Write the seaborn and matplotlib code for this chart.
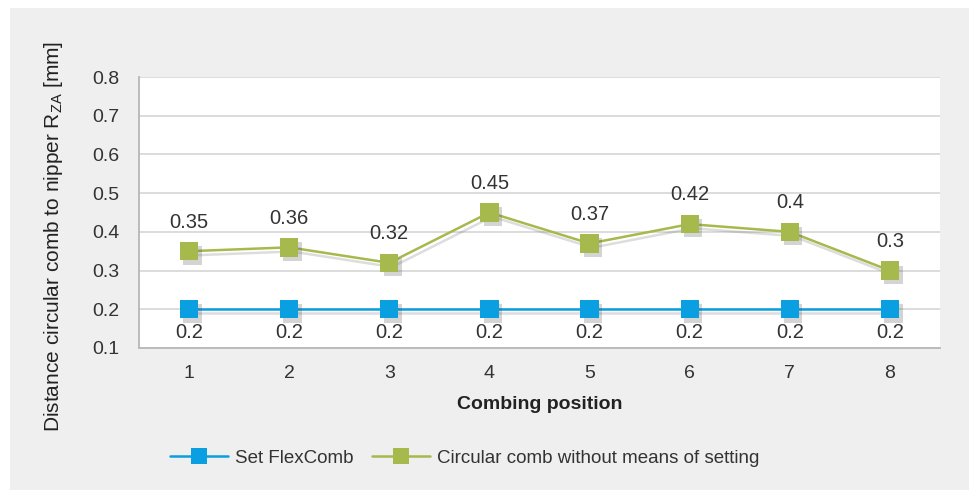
import numpy as np
import pandas as pd
import seaborn as sns
import matplotlib.pyplot as plt
import matplotlib.patheffects as pe
from matplotlib.patches import Rectangle

positions = [1, 2, 3, 4, 5, 6, 7, 8]
flexcomb = [0.2, 0.2, 0.2, 0.2, 0.2, 0.2, 0.2, 0.2]
circular = [0.35, 0.36, 0.32, 0.45, 0.37, 0.42, 0.4, 0.3]
series_names = ["Set FlexComb", "Circular comb without means of setting"]
yticks = [0.1, 0.2, 0.3, 0.4, 0.5, 0.6, 0.7, 0.8]

df = pd.DataFrame({
    "pos": positions * 2,
    "value": flexcomb + circular,
    "series": [series_names[0]] * 8 + [series_names[1]] * 8,
})

sns.set_style("white")
plt.rcParams["font.family"] = ["Liberation Sans", "DejaVu Sans"]
plt.rcParams["text.color"] = "#333333"

colors = {series_names[0]: "#0a9fe0", series_names[1]: "#a6b94c"}

fig = plt.figure(figsize=(9.7, 4.9), dpi=100, facecolor="white")
fig.patches.append(Rectangle((10 / 970, 0), 1, 1 - 8 / 490, transform=fig.transFigure,
                             facecolor="#efefef", edgecolor="none", zorder=-10))
ax = fig.add_axes([139 / 970, 1 - 348 / 490, 801 / 970, 271 / 490])
ax.set_facecolor("white")

line_shadow = [pe.SimpleLineShadow(offset=(2, -3), shadow_color="#555555", alpha=0.2), pe.Normal()]
marker_shadow = [pe.SimplePatchShadow(offset=(2.5, -3), shadow_rgbFace="#555555", alpha=0.25), pe.Normal()]

sns.lineplot(data=df, x="pos", y="value", hue="series", palette=colors,
             linewidth=1.8, ax=ax, legend=False)
for line in ax.get_lines():
    line.set_path_effects(line_shadow)
sns.scatterplot(data=df, x="pos", y="value", hue="series", palette=colors, marker="s",
                s=175, linewidth=0, ax=ax, legend=False, zorder=3)
for coll in ax.collections:
    coll.set_path_effects(marker_shadow)
    coll.set_clip_on(False)

for x, y in zip(positions, circular):
    ax.annotate(f"{y:g}", (x, y), xytext=(0, 21), textcoords="offset points",
                ha="center", va="center", fontsize=14.5, color="#333333")
for x, y in zip(positions, flexcomb):
    ax.annotate(f"{y:g}", (x, y), xytext=(0, -17), textcoords="offset points",
                ha="center", va="center", fontsize=14.5, color="#333333")

ax.set_xlim(0.5, 8.5)
ax.set_ylim(0.1, 0.8)
ax.set_yticks(yticks)
ax.set_yticklabels([f"{t:g}" for t in yticks])
ax.set_xticks(positions)
ax.set_xticks(np.arange(0.5, 9, 1), minor=True)
ax.tick_params(axis="x", which="major", length=0, pad=12, labelsize=14, labelcolor="#333333")
ax.tick_params(axis="x", which="minor", length=9, width=1.2, color="#bbbbbb", direction="out")
ax.tick_params(axis="y", length=9, width=1.2, color="#bbbbbb", direction="out",
               pad=5, labelsize=14, labelcolor="#333333")
ax.grid(axis="y", color="#d6d6d6", linewidth=1.2)
ax.set_axisbelow(True)
for s in ["top", "right"]:
    ax.spines[s].set_visible(False)
for s in ["left", "bottom"]:
    ax.spines[s].set_color("#bbbbbb")
    ax.spines[s].set_linewidth(1.4)

ax.set_xlabel("Combing position", fontsize=14, fontweight="bold", color="#222222", labelpad=10)
ax.set_ylabel(r"Distance circular comb to nipper R$_{\mathregular{ZA}}$ [mm]", fontsize=15,
              color="#222222")
ax.yaxis.set_label_coords(-0.093, 0.41)

handles = [plt.Line2D([], [], color=colors[n], marker="s", markersize=12, markeredgewidth=0,
                      linewidth=1.8) for n in series_names]
fig.legend(handles, series_names, loc="center", bbox_to_anchor=(0.479, 1 - 458 / 490),
           ncol=2, frameon=False, fontsize=13.5, handlelength=3.1, columnspacing=1.0,
           handletextpad=0.35)

fig.savefig("out.png", dpi=100, facecolor=fig.get_facecolor())
